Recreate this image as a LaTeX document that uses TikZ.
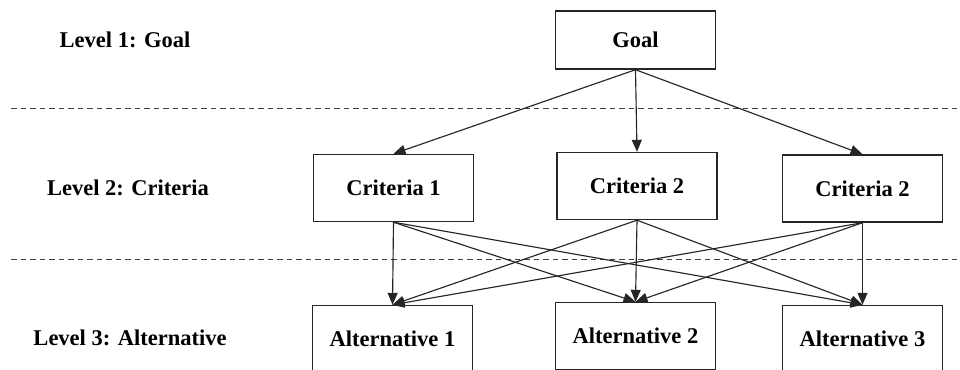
\documentclass[tikz,border=0pt]{standalone}
\usepackage{fontspec}
\setmainfont{Liberation Serif}
\usetikzlibrary{arrows.meta}
\begin{document}
\begin{tikzpicture}
			\tikzstyle{box}   = [rectangle, draw=black!85, line width=0.8pt, fill=white, minimum width=3.2cm, minimum height=1.34cm, inner sep=0pt, font=\fontsize{12.8}{15}\selectfont\bfseries]
			\tikzstyle{level} = [font=\fontsize{12.8}{15}\selectfont\bfseries]
			\tikzstyle{link}  = [-{Triangle[length=0.24cm, width=0.2cm]}, line width=0.65pt, black!85]
			\tikzstyle{sep}   = [dash pattern=on 0.11cm off 0.08cm, line width=0.55pt, black!75]

			\useasboundingbox (0, 0) rectangle (19.2, 7.38);

			% level separators
			\draw[sep] (0.22, 5.22) -- (19.2, 5.22);
			\draw[sep] (0.22, 2.2) -- (19.2, 2.2);

			% level names
			\foreach \name/\x/\y/\text in {l1/2.5/6.58/{Level 1: Goal}, l2/2.56/3.62/{Level 2: Criteria}, l3/2.6/0.62/{Level 3: Alternative}}
				\node[level] (\name) at (\x, \y) {\text};

			\node[box, minimum height=1.16cm] (goal) at (12.71, 6.58) {Goal};

			\foreach \name/\x/\y/\text in {c1/7.87/3.62/{Criteria 1}, c2/12.74/3.66/{Criteria 2}, c3/17.25/3.61/{Criteria 2}}
				\node[box] (\name) at (\x, \y) {\text};

			\foreach \name/\x/\y/\text in {a1/7.85/0.6/{Alternative 1}, a2/12.71/0.66/{Alternative 2}, a3/17.25/0.6/{Alternative 3}}
				\node[box] (\name) at (\x, \y) {\text};

			\foreach \to in {c1, c2, c3}
				\draw[link] (goal.south) -- (\to.north);

			\foreach \from in {c1, c2, c3}
				\foreach \to in {a1, a2, a3}
					\draw[link] (\from.south) -- (\to.north);
		\end{tikzpicture}
\end{document}
